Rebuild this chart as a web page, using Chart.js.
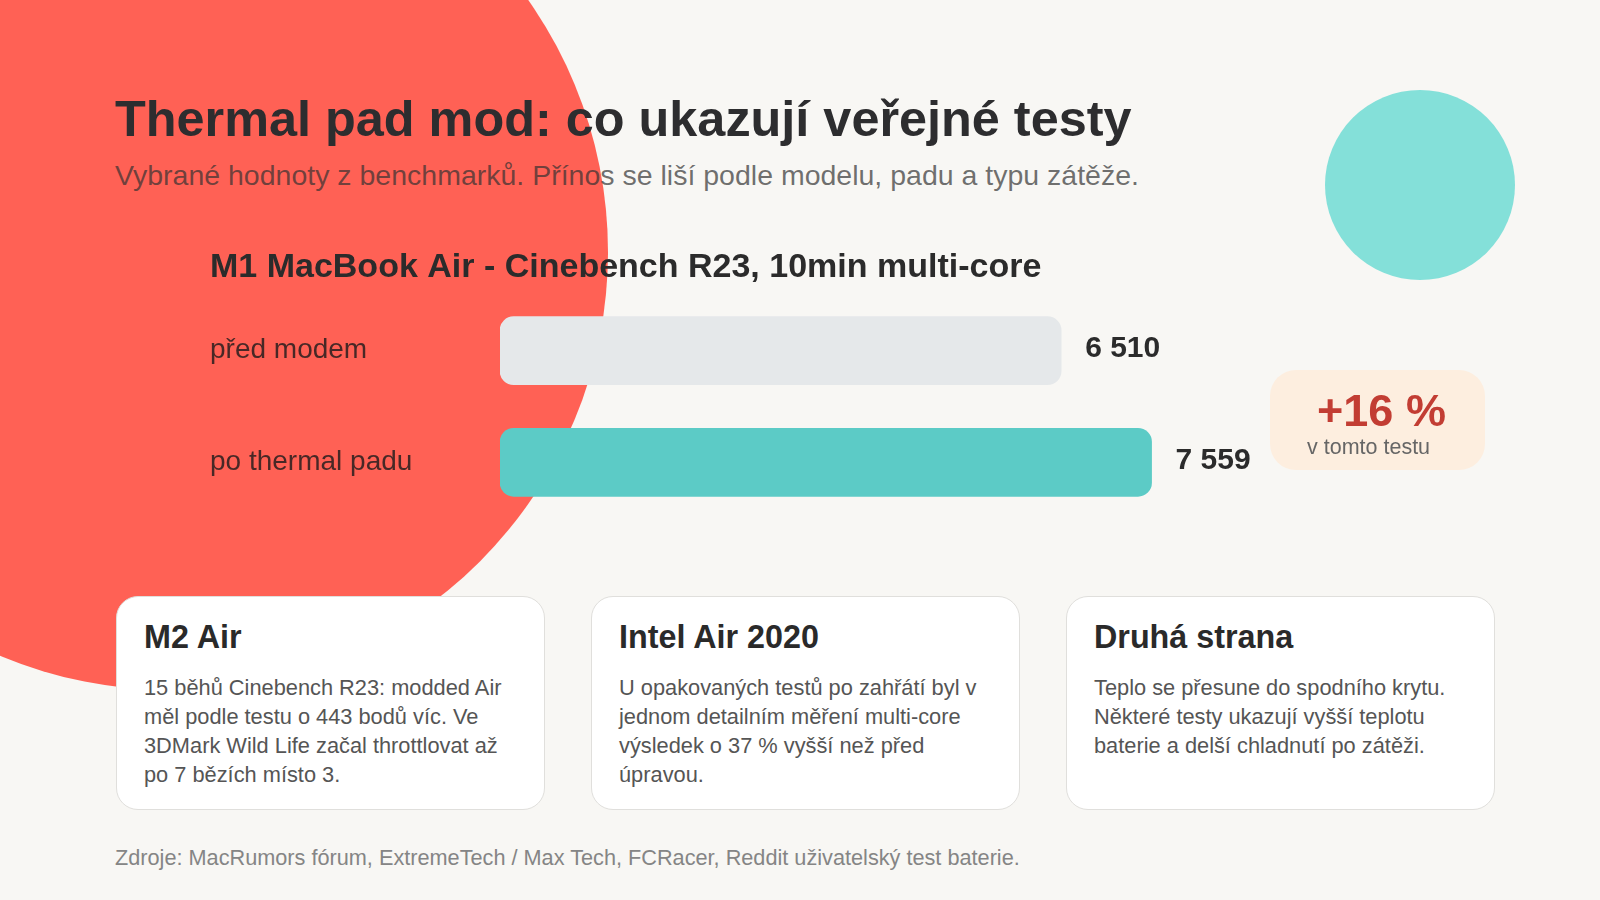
<!DOCTYPE html>
<html lang="cs">
<head>
<meta charset="utf-8">
<title>Thermal pad mod</title>
<script src="https://cdn.jsdelivr.net/npm/chart.js@4.4.1/dist/chart.umd.min.js"></script>
<style>
  html, body { margin: 0; padding: 0; }
  body {
    width: 1600px; height: 900px; overflow: hidden; position: relative;
    background: #f8f7f4;
    font-family: "Liberation Sans", Arial, sans-serif;
    color: #2b2b2b;
  }
  .blob-red {
    position: absolute; left: -268px; top: -186px; width: 876px; height: 876px;
    border-radius: 50%; background: #ff6155;
  }
  .blob-teal {
    position: absolute; left: 1325px; top: 90px; width: 190px; height: 190px;
    border-radius: 50%; background: #84e0d9;
  }
  h1 {
    position: absolute; left: 115px; top: 94px; margin: 0;
    font-size: 50.4px; line-height: 1; font-weight: bold; color: #2d2d2f;
    white-space: nowrap;
  }
  .subtitle {
    position: absolute; left: 115px; top: 161px; margin: 0;
    font-size: 28.5px; line-height: 1; color: rgba(50, 50, 50, 0.7); white-space: nowrap;
  }
  .chart-wrap {
    position: absolute; left: 210px; top: 243px; width: 1152px; height: 295px;
  }
  .badge {
    position: absolute; left: 1270px; top: 370px; width: 215px; height: 100px;
    border-radius: 26px; background: #fdeedf;
  }
  .badge-value {
    position: absolute; left: 1271px; width: 221px; top: 388px; text-align: center;
    font-size: 45px; line-height: 1; font-weight: bold; color: #c23d33;
  }
  .badge-note {
    position: absolute; left: 1307px; top: 437px;
    font-size: 21.5px; line-height: 1; color: #666;
  }
  .card {
    position: absolute; top: 596px; width: 429px; height: 214px;
    box-sizing: border-box; padding: 24px 0 0 27px;
    background: #fff; border: 1.5px solid #e0dfdc; border-radius: 22px;
  }
  .card h3 {
    margin: 0; font-size: 32.3px; line-height: 1; font-weight: bold; color: #2a2a2a;
  }
  .card p {
    margin: 21px 0 0; font-size: 21.8px; line-height: 28.9px; color: #555;
    white-space: nowrap;
  }
  .footer {
    position: absolute; left: 115px; top: 847px;
    font-size: 21.7px; line-height: 1; color: #858585; white-space: nowrap;
  }
</style>
</head>
<body>
<div class="blob-red"></div>
<div class="blob-teal"></div>

<h1>Thermal pad mod: co ukazují veřejné testy</h1>
<div class="subtitle">Vybrané hodnoty z benchmarků. Přínos se liší podle modelu, padu a typu zátěže.</div>

<div class="chart-wrap"><canvas id="scoreChart"></canvas></div>

<div class="badge"></div>
<div class="badge-value" id="gain"></div>
<div class="badge-note">v tomto testu</div>

<div class="card" style="left:116px">
  <h3>M2 Air</h3>
  <p>15 běhů Cinebench R23: modded Air<br>měl podle testu o 443 bodů víc. Ve<br>3DMark Wild Life začal throttlovat až<br>po 7 bězích místo 3.</p>
</div>
<div class="card" style="left:591px">
  <h3>Intel Air 2020</h3>
  <p>U opakovaných testů po zahřátí byl v<br>jednom detailním měření multi-core<br>výsledek o 37 % vyšší než před<br>úpravou.</p>
</div>
<div class="card" style="left:1066px">
  <h3>Druhá strana</h3>
  <p>Teplo se přesune do spodního krytu.<br>Některé testy ukazují vyšší teplotu<br>baterie a delší chladnutí po zátěži.</p>
</div>

<div class="footer">Zdroje: MacRumors fórum, ExtremeTech / Max Tech, FCRacer, Reddit uživatelský test baterie.</div>

<script>
// ===== Data =====
const categories = ['před modem', 'po thermal padu'];
const scores = [6510, 7559];
const chartTitle = 'M1 MacBook Air - Cinebench R23, 10min multi-core';
const xMax = 10000;

// 6510 -> "6 510"
function fmt(n) {
  return String(n).replace(/\B(?=(\d{3})+(?!\d))/g, ' ');
}

// gain badge from the two scores
const gain = Math.round((scores[1] / scores[0] - 1) * 100);
document.getElementById('gain').textContent = '+' + gain + ' %';

// ===== Value labels at bar ends =====
const valueLabels = {
  id: 'valueLabels',
  afterDatasetsDraw(chart) {
    const ctx = chart.ctx;
    const meta = chart.getDatasetMeta(0);
    ctx.save();
    ctx.font = 'bold 30px "Liberation Sans", Arial, sans-serif';
    ctx.fillStyle = '#2b2b2b';
    ctx.textAlign = 'left';
    ctx.textBaseline = 'middle';
    meta.data.forEach((bar, i) => {
      ctx.fillText(fmt(scores[i]), bar.x + 24, bar.y - 2);
    });
    ctx.restore();
  }
};

// ===== Chart =====
new Chart(document.getElementById('scoreChart'), {
  type: 'bar',
  data: {
    labels: categories,
    datasets: [{
      data: scores,
      backgroundColor: ['#e5e8ea', '#5ccbc6'],
      borderRadius: 14,
      borderSkipped: false,
      barThickness: 68,
    }]
  },
  options: {
    indexAxis: 'y',
    responsive: true,
    maintainAspectRatio: false,
    animation: false,
    layout: { padding: 0 },
    scales: {
      x: { display: false, min: 0, max: xMax },
      y: {
        grid: { display: false },
        border: { display: false },
        ticks: {
          crossAlign: 'far',
          color: 'rgba(40, 30, 30, 0.85)',
          font: { size: 28, family: '"Liberation Sans", Arial, sans-serif' },
        },
        afterFit: scale => { scale.width = 290; }
      }
    },
    plugins: {
      legend: { display: false },
      tooltip: { enabled: false },
      title: {
        display: true,
        text: chartTitle,
        align: 'start',
        color: '#2b2b2b',
        font: { size: 34, weight: 'bold', family: '"Liberation Sans", Arial, sans-serif' },
        padding: { top: 4, bottom: 7 }
      }
    }
  },
  plugins: [valueLabels]
});
</script>
</body>
</html>
